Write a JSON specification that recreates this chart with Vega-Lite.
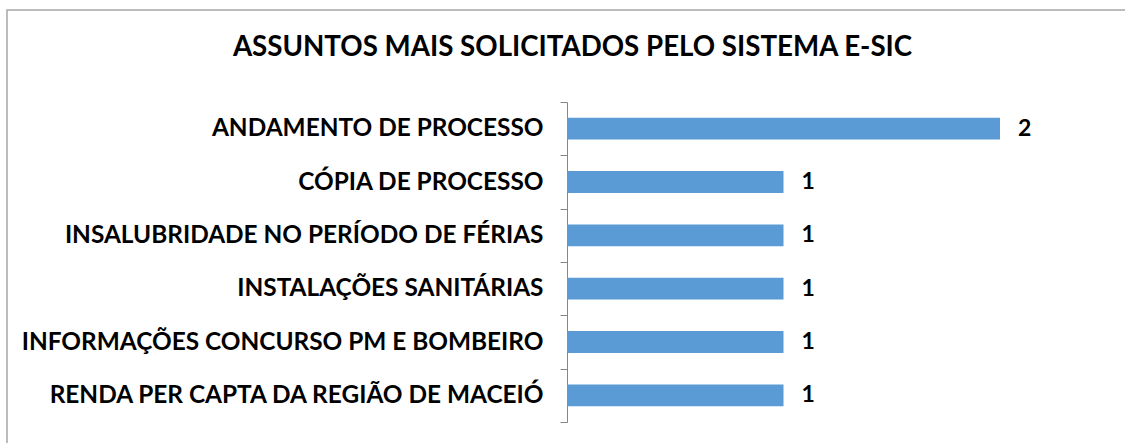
{
  "$schema": "https://vega.github.io/schema/vega-lite/v6.json",
  "width": 1125,
  "height": 440,
  "autosize": {"type": "none"},
  "padding": {"left": 7, "top": 10, "right": 0, "bottom": 0},
  "background": "white",
  "title": {
    "text": "ASSUNTOS MAIS SOLICITADOS PELO SISTEMA E-SIC",
    "font": "Lato",
    "fontSize": 27.7,
    "fontWeight": "bold",
    "color": "#000000",
    "anchor": "middle",
    "baseline": "bottom",
    "offset": -55,
    "dy": 38,
    "dx": 3
  },
  "config": {
    "view": {"stroke": "#A6A6A6", "strokeWidth": 1.5},
    "font": "Lato"
  },
  "data": {
    "values": [
      {"assunto": "ANDAMENTO DE PROCESSO", "qtd": 2},
      {"assunto": "CÓPIA DE PROCESSO", "qtd": 1},
      {"assunto": "INSALUBRIDADE NO PERÍODO DE FÉRIAS", "qtd": 1},
      {"assunto": "INSTALAÇÕES SANITÁRIAS", "qtd": 1},
      {"assunto": "INFORMAÇÕES CONCURSO PM E BOMBEIRO", "qtd": 1},
      {"assunto": "RENDA PER CAPTA DA REGIÃO DE MACEIÓ", "qtd": 1}
    ]
  },
  "encoding": {
    "y": {
      "field": "assunto",
      "type": "nominal",
      "sort": null,
      "scale": {"range": [92, 412], "paddingInner": 0, "paddingOuter": 0},
      "axis": {
        "title": null,
        "offset": -560,
        "tickBand": "extent",
        "domainColor": "#868686",
        "tickColor": "#868686",
        "tickSize": 7,
        "labelPadding": 17,
        "labelFont": "Lato",
        "labelFontSize": 24.4,
        "labelFontWeight": "bold",
        "labelColor": "#000000",
        "labelLimit": 700
      }
    },
    "x": {
      "field": "qtd",
      "type": "quantitative",
      "scale": {"domain": [0, 2], "range": [560, 993], "nice": false, "zero": true},
      "axis": null
    }
  },
  "layer": [
    {"mark": {"type": "bar", "color": "#5B9BD5", "height": {"band": 0.41}}},
    {
      "mark": {"type": "text", "align": "left", "baseline": "middle", "dx": 18, "font": "Lato", "fontSize": 23, "fontWeight": "bold", "color": "#000000"},
      "encoding": {"text": {"field": "qtd", "type": "quantitative"}}
    }
  ]
}
